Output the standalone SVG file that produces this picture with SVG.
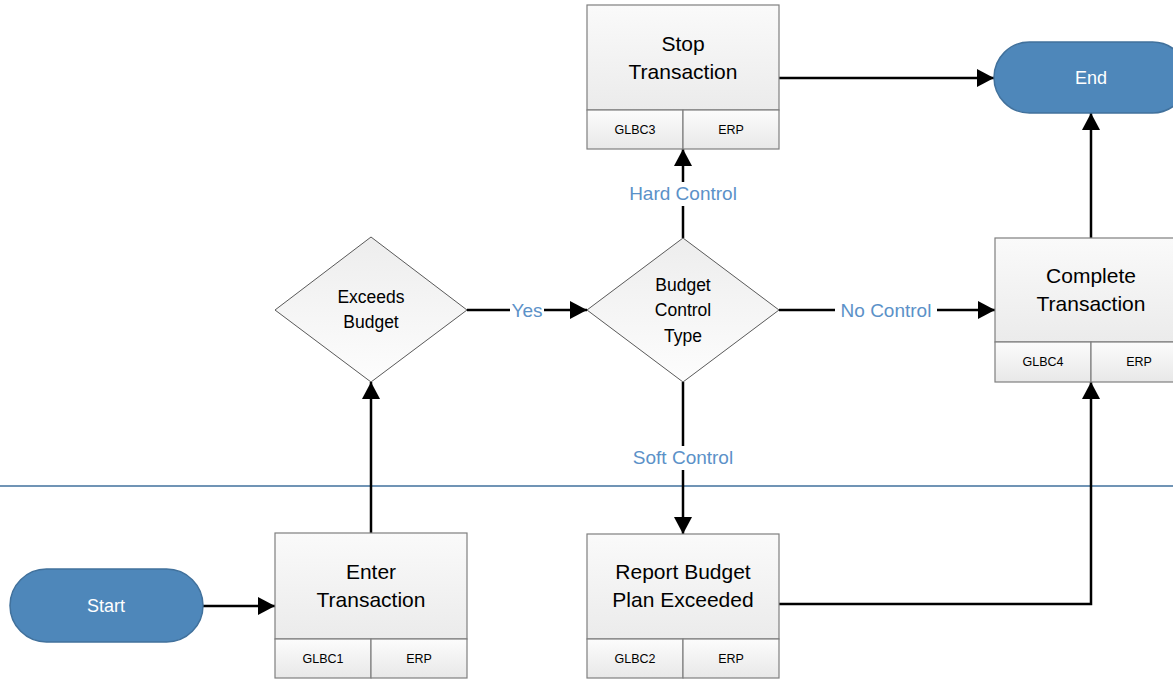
<svg xmlns="http://www.w3.org/2000/svg" width="1173" height="680" viewBox="0 0 1173 680">
<defs>
<linearGradient id="gBox" x1="0" y1="0" x2="0" y2="1">
<stop offset="0" stop-color="#fafafa"/>
<stop offset="1" stop-color="#ebebeb"/>
</linearGradient>
<linearGradient id="gStrip" x1="0" y1="0" x2="0" y2="1">
<stop offset="0" stop-color="#fcfcfc"/>
<stop offset="1" stop-color="#e8e8e8"/>
</linearGradient>
<linearGradient id="gDia" x1="0" y1="0" x2="0" y2="1">
<stop offset="0" stop-color="#ededed"/>
<stop offset="1" stop-color="#fdfdfd"/>
</linearGradient>
<marker id="arr" markerWidth="17" markerHeight="18" refX="17" refY="9" orient="auto" markerUnits="userSpaceOnUse">
<path d="M0,0 L17,9 L0,18 Z" fill="#000"/>
</marker>
<style>
.box{fill:url(#gBox);stroke:#7f7f7f;stroke-width:1.2}
.strip{fill:url(#gStrip);stroke:#7f7f7f;stroke-width:1.2}
.dia{fill:url(#gDia);stroke:#595959;stroke-width:1}
.term{fill:#4e87ba;stroke:#41719c;stroke-width:1.5}
.t{font-family:"Liberation Sans",Arial,sans-serif;font-size:21px;fill:#000;text-anchor:middle}
.td{font-family:"Liberation Sans",Arial,sans-serif;font-size:17.5px;fill:#000;text-anchor:middle}
.ts{font-family:"Liberation Sans",Arial,sans-serif;font-size:12.5px;fill:#000;text-anchor:middle}
.tw{font-family:"Liberation Sans",Arial,sans-serif;font-size:18px;fill:#fff;text-anchor:middle}
.lbl{font-family:"Liberation Sans",Arial,sans-serif;font-size:19px;fill:#5b91c8;text-anchor:middle}
.c{fill:none;stroke:#000;stroke-width:2.5}
.lb{fill:#fff}
</style>
</defs>
<rect width="1173" height="680" fill="#fff"/>
<line x1="0" y1="486" x2="1173" y2="486" stroke="#41719c" stroke-width="1.5"/>

<g id="connectors">
<path class="c" d="M779,78 H994" marker-end="url(#arr)"/>
<path class="c" d="M1091,238 V113" marker-end="url(#arr)"/>
<path class="c" d="M467,310 H587" marker-end="url(#arr)"/>
<path class="c" d="M683,238 V149" marker-end="url(#arr)"/>
<path class="c" d="M779,310 H995" marker-end="url(#arr)"/>
<path class="c" d="M683,382 V534" marker-end="url(#arr)"/>
<path class="c" d="M371,533 V382" marker-end="url(#arr)"/>
<path class="c" d="M203,606 H275" marker-end="url(#arr)"/>
<path class="c" d="M779,604 H1091 V382" marker-end="url(#arr)"/>
<rect class="lb" x="510" y="298" width="34" height="24"/>
<text class="lbl" x="527" y="317">Yes</text>
<rect class="lb" x="624" y="182" width="118" height="24"/>
<text class="lbl" x="683" y="200">Hard Control</text>
<rect class="lb" x="835" y="298" width="102" height="24"/>
<text class="lbl" x="886" y="317">No Control</text>
<rect class="lb" x="625" y="446" width="116" height="24"/>
<text class="lbl" x="683" y="464">Soft Control</text>
</g>

<g id="start">
<rect class="term" x="10" y="569" width="193" height="73" rx="36.5"/>
<text class="tw" x="106" y="612">Start</text>
</g>

<g id="end">
<rect class="term" x="994" y="42" width="194" height="71" rx="35.5"/>
<text class="tw" x="1091" y="84">End</text>
</g>

<g id="stop">
<rect class="box" x="587" y="5" width="192" height="105"/>
<rect class="strip" x="587" y="110" width="96" height="39"/>
<rect class="strip" x="683" y="110" width="96" height="39"/>
<text class="t" x="683" y="51">Stop</text>
<text class="t" x="683" y="79">Transaction</text>
<text class="ts" x="635" y="134">GLBC3</text>
<text class="ts" x="731" y="134">ERP</text>
</g>

<g id="complete">
<rect class="box" x="995" y="238" width="192" height="104"/>
<rect class="strip" x="995" y="342" width="96" height="40"/>
<rect class="strip" x="1091" y="342" width="96" height="40"/>
<text class="t" x="1091" y="283">Complete</text>
<text class="t" x="1091" y="311">Transaction</text>
<text class="ts" x="1043" y="366">GLBC4</text>
<text class="ts" x="1139" y="366">ERP</text>
</g>

<g id="enter">
<rect class="box" x="275" y="533" width="192" height="106"/>
<rect class="strip" x="275" y="639" width="96" height="39"/>
<rect class="strip" x="371" y="639" width="96" height="39"/>
<text class="t" x="371" y="579">Enter</text>
<text class="t" x="371" y="607">Transaction</text>
<text class="ts" x="323" y="663">GLBC1</text>
<text class="ts" x="419" y="663">ERP</text>
</g>

<g id="report">
<rect class="box" x="587" y="534" width="192" height="105"/>
<rect class="strip" x="587" y="639" width="96" height="39"/>
<rect class="strip" x="683" y="639" width="96" height="39"/>
<text class="t" x="683" y="579">Report Budget</text>
<text class="t" x="683" y="607">Plan Exceeded</text>
<text class="ts" x="635" y="663">GLBC2</text>
<text class="ts" x="731" y="663">ERP</text>
</g>

<g id="exceeds">
<polygon class="dia" points="371,237 467,310 371,382 275,310"/>
<text class="td" x="371" y="303">Exceeds</text>
<text class="td" x="371" y="328">Budget</text>
</g>

<g id="controltype">
<polygon class="dia" points="683,238 779,310 683,382 587,310"/>
<text class="td" x="683" y="291">Budget</text>
<text class="td" x="683" y="316">Control</text>
<text class="td" x="683" y="342">Type</text>
</g>
</svg>
